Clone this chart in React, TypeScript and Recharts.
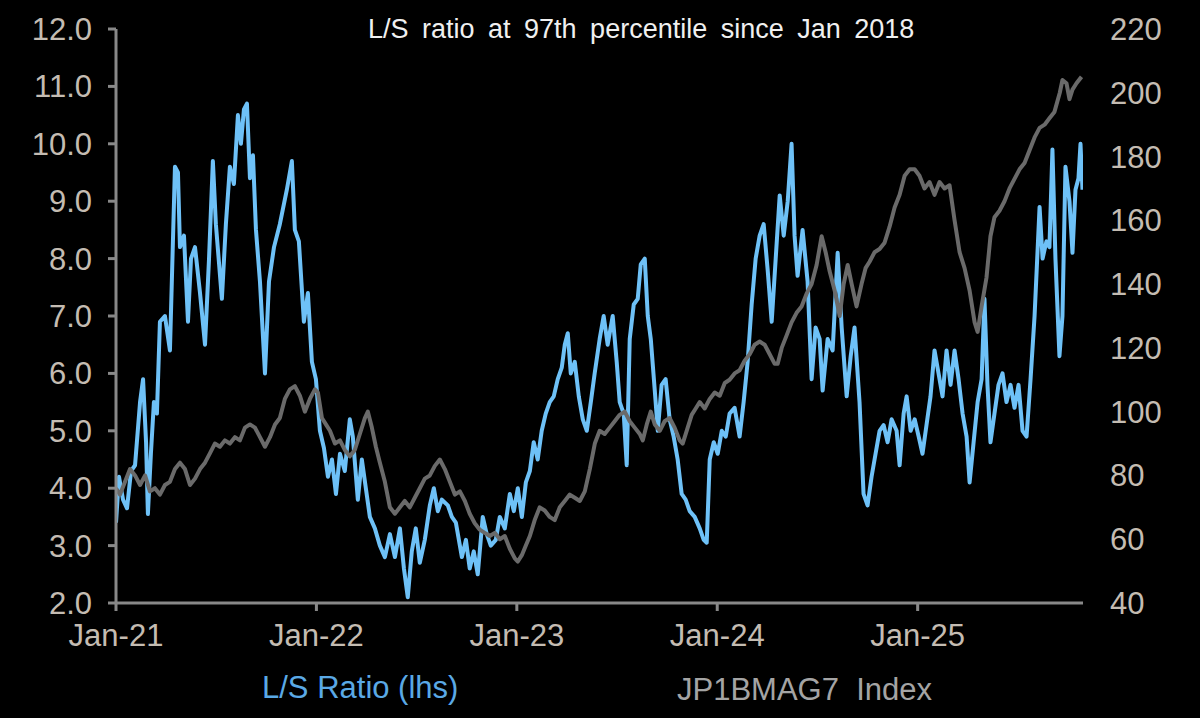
import React from "react";
import { LineChart, Line, XAxis, YAxis } from "recharts";

// month index from Jan 2021 (0 = Jan-21)
const LS_MONTHS = [
  0, 0.18, 0.42, 0.66, 0.9, 1.14, 1.44, 1.62, 1.8, 1.91, 2.09, 2.27, 2.45, 2.63, 2.93, 3.23, 3.53, 3.71, 3.83,
  4.07, 4.31, 4.49, 4.73, 5.03, 5.33, 5.57, 5.8, 5.98, 6.34, 6.58, 6.82, 7.06, 7.3, 7.48, 7.66, 7.84, 8.02, 8.2,
  8.38, 8.62, 8.92, 9.16, 9.46, 9.81, 10.23, 10.53, 10.71, 10.95, 11.25, 11.49, 11.73, 11.97, 12.21, 12.45,
  12.69, 12.93, 13.17, 13.41, 13.7, 14.0, 14.18, 14.48, 14.72, 14.96, 15.2, 15.5, 15.8, 16.1, 16.4, 16.7, 17.0,
  17.24, 17.47, 17.71, 17.95, 18.19, 18.49, 18.79, 19.03, 19.27, 19.51, 19.87, 20.11, 20.35, 20.71, 20.95,
  21.18, 21.42, 21.66, 21.96, 22.2, 22.44, 22.74, 22.98, 23.28, 23.58, 23.82, 24.06, 24.3, 24.54, 24.78, 25.01,
  25.25, 25.49, 25.73, 25.97, 26.21, 26.45, 26.69, 26.87, 27.05, 27.23, 27.47, 27.71, 27.95, 28.19, 28.43,
  28.66, 28.96, 29.2, 29.44, 29.74, 29.98, 30.16, 30.4, 30.58, 30.76, 31.0, 31.24, 31.42, 31.66, 31.84, 32.02,
  32.26, 32.44, 32.67, 32.91, 33.15, 33.39, 33.63, 33.87, 34.11, 34.35, 34.65, 34.95, 35.19, 35.37, 35.55,
  35.79, 36.03, 36.27, 36.51, 36.74, 37.04, 37.34, 37.58, 37.82, 38.06, 38.3, 38.54, 38.78, 39.02, 39.26, 39.5,
  39.74, 39.98, 40.22, 40.45, 40.63, 40.81, 41.11, 41.41, 41.65, 41.89, 42.13, 42.31, 42.61, 42.91, 43.21,
  43.45, 43.75, 43.99, 44.22, 44.52, 44.76, 45.0, 45.24, 45.48, 45.72, 45.96, 46.2, 46.44, 46.74, 46.92, 47.16,
  47.34, 47.58, 47.82, 48.06, 48.29, 48.53, 48.77, 49.01, 49.25, 49.49, 49.73, 49.97, 50.21, 50.45, 50.69,
  50.93, 51.11, 51.35, 51.59, 51.83, 52.0, 52.18, 52.36, 52.6, 52.84, 53.08, 53.32, 53.56, 53.8, 54.04, 54.28,
  54.52, 54.76, 55.0, 55.3, 55.48, 55.71, 55.89, 56.07, 56.25, 56.49, 56.67, 56.85, 57.09, 57.27, 57.45, 57.63,
  57.75, 57.87,
];

const LS_RATIO = [
  3.4, 4.2, 3.8, 3.65, 4.3, 4.4, 5.5, 5.9, 4.8, 3.55, 4.6, 5.5, 5.3, 6.9, 7.0, 6.4, 9.6, 9.5, 8.2,
  8.4, 6.9, 8.0, 8.2, 7.4, 6.5, 8.0, 9.7, 8.6, 7.3, 8.6, 9.6, 9.3, 10.5, 10.0, 10.6, 10.7, 9.4, 9.8,
  8.5, 7.6, 6.0, 7.6, 8.2, 8.6, 9.2, 9.7, 8.5, 8.3, 6.9, 7.4, 6.2, 5.9, 5.0, 4.7,
  4.2, 4.5, 3.9, 4.6, 4.3, 5.2, 4.9, 3.8, 4.5, 4.0, 3.5, 3.3, 3.0, 2.8, 3.2, 2.8, 3.3,
  2.6, 2.1, 2.9, 3.3, 2.7, 3.1, 3.7, 4.0, 3.6, 3.8, 3.7, 3.5, 3.4, 2.8, 3.1,
  2.6, 2.9, 2.5, 3.5, 3.2, 3.0, 3.1, 3.5, 3.3, 3.9, 3.6, 4.0, 3.5, 4.1, 4.3, 4.8,
  4.5, 5.0, 5.3, 5.5, 5.6, 5.9, 6.1, 6.5, 6.7, 6.0, 6.2, 5.6, 5.2, 5.0, 5.5,
  6.0, 6.6, 7.0, 6.5, 7.0, 6.2, 5.5, 5.3, 4.4, 6.6, 7.2, 7.3, 7.9, 8.0, 7.0, 6.6,
  5.7, 5.0, 5.8, 5.9, 5.2, 4.9, 4.5, 3.9, 3.8, 3.6, 3.5, 3.3, 3.1, 3.05, 4.5,
  4.8, 4.6, 5.0, 4.9, 5.3, 5.4, 4.9, 5.5, 6.2, 7.2, 8.0, 8.4, 8.6, 7.8, 6.9, 8.0,
  9.1, 8.4, 9.0, 10.0, 8.4, 7.7, 8.5, 7.6, 5.9, 6.8, 6.6, 5.7, 6.6, 6.4, 8.1,
  6.8, 5.6, 6.3, 6.8, 5.5, 3.9, 3.7, 4.2, 4.6, 5.0, 5.1, 4.8, 5.2, 5.0, 4.4, 5.3,
  5.6, 5.0, 5.2, 4.9, 4.6, 5.1, 5.6, 6.4, 6.0, 5.6, 6.4, 5.8, 6.4, 5.9, 5.3,
  4.9, 4.1, 4.8, 5.5, 5.9, 7.3, 5.8, 4.8, 5.3, 5.8, 6.0, 5.5, 5.8, 5.4, 5.8, 5.0,
  4.9, 5.9, 7.0, 8.9, 8.0, 8.3, 8.2, 9.9, 8.0, 6.3, 7.0, 9.6, 9.0, 8.1, 9.2, 9.4,
  10.0, 9.2,
];

const IDX_MONTHS = [
  0, 0.24, 0.54, 0.84, 1.14, 1.44, 1.74, 2.03, 2.33, 2.63, 2.93, 3.23, 3.53, 3.83, 4.13, 4.43, 4.73, 5.03,
  5.33, 5.63, 5.92, 6.22, 6.52, 6.82, 7.12, 7.42, 7.72, 8.02, 8.32, 8.62, 8.92, 9.22, 9.52, 9.81, 10.11,
  10.41, 10.71, 11.01, 11.31, 11.61, 11.91, 12.09, 12.33, 12.57, 12.81, 13.11, 13.41, 13.7, 14.0, 14.3, 14.6,
  14.9, 15.08, 15.32, 15.56, 15.8, 16.1, 16.4, 16.7, 17.0, 17.29, 17.59, 17.89, 18.19, 18.49, 18.79, 19.09,
  19.39, 19.69, 19.99, 20.29, 20.59, 20.89, 21.18, 21.48, 21.78, 22.08, 22.38, 22.68, 22.98, 23.28, 23.58,
  23.88, 24.06, 24.3, 24.54, 24.78, 25.07, 25.37, 25.67, 25.97, 26.27, 26.57, 26.87, 27.17, 27.47, 27.77,
  28.07, 28.37, 28.67, 28.96, 29.26, 29.56, 29.86, 30.16, 30.46, 30.76, 31.06, 31.36, 31.54, 31.78, 32.02,
  32.26, 32.56, 32.85, 33.15, 33.45, 33.75, 33.93, 34.17, 34.47, 34.71, 34.95, 35.25, 35.55, 35.85, 36.15,
  36.45, 36.74, 37.04, 37.34, 37.64, 37.94, 38.24, 38.54, 38.84, 39.14, 39.44, 39.62, 39.86, 40.16, 40.45,
  40.75, 41.05, 41.35, 41.65, 41.95, 42.25, 42.49, 42.73, 43.03, 43.33, 43.57, 43.81, 44.05, 44.34, 44.64,
  44.88, 45.12, 45.42, 45.72, 46.02, 46.32, 46.62, 46.92, 47.22, 47.52, 47.82, 48.11, 48.41, 48.71, 49.01,
  49.31, 49.61, 49.91, 50.21, 50.51, 50.81, 51.11, 51.41, 51.59, 51.83, 52.12, 52.36, 52.6, 52.9, 53.2, 53.5,
  53.8, 54.1, 54.4, 54.7, 55.0, 55.3, 55.6, 55.89, 56.19, 56.51, 56.67, 56.91, 57.09, 57.27, 57.51, 57.81,
];

const IDX_VALUES = [
  76, 74, 78, 82, 80, 77, 80, 75, 76, 74, 77, 78, 82, 84, 82, 77, 79, 82,
  84, 87, 90, 89, 91, 90, 92, 91, 95, 96, 95, 92, 89, 92, 96, 98, 104,
  107, 108, 105, 100, 104, 107, 106, 98, 96, 94, 90, 91, 88, 86, 88, 93,
  98, 100, 95, 89, 84, 78, 70, 68, 70, 72, 70, 73, 76, 79, 80, 83,
  85, 82, 78, 74, 75, 72, 68, 65, 63, 62, 61, 62, 60, 61, 57,
  54, 53, 55, 58, 61, 66, 70, 69, 67, 66, 70, 72, 74, 73, 72,
  75, 82, 90, 94, 93, 95, 97, 99, 100, 97, 95, 93, 91, 96, 100,
  96, 94, 97, 98, 95, 91, 90, 94, 99, 101, 103, 101, 104, 106, 105,
  109, 110, 112, 113, 116, 118, 121, 122, 121, 118, 115, 115, 120, 124, 128,
  131, 133, 137, 140, 146, 155, 150, 144, 138, 130, 140, 146, 140, 133, 140,
  145, 147, 150, 151, 153, 158, 164, 168, 174, 176, 176, 174, 170, 172, 168,
  172, 170, 171, 160, 150, 145, 138, 128, 125, 133, 142, 155, 161, 163, 166, 170,
  173, 176, 178, 182, 186, 189, 190, 192, 194, 200, 204, 203, 198, 201, 203, 205,
];

const LEFT_TICKS = [2, 3, 4, 5, 6, 7, 8, 9, 10, 11, 12];
const RIGHT_TICKS = [40, 60, 80, 100, 120, 140, 160, 180, 200, 220];
const X_TICKS = [0, 12, 24, 36, 48];
const X_LABELS = ["Jan-21", "Jan-22", "Jan-23", "Jan-24", "Jan-25"];

const lsData = LS_MONTHS.map((m, i) => ({ m, v: LS_RATIO[i] }));
const idxData = IDX_MONTHS.map((m, i) => ({ m, v: IDX_VALUES[i] }));

const FONT = '"Liberation Sans", Arial, sans-serif';
const AXIS = "#888888";
const TICK_TEXT = { fill: "#c4bcb2", fontSize: 31, fontFamily: FONT };

export default function App() {
  return (
    <div
      style={{
        position: "absolute",
        left: 0,
        top: 0,
        width: 1200,
        height: 718,
        background: "#000",
        overflow: "hidden",
        fontFamily: FONT,
      }}
    >
      <LineChart width={1200} height={718} margin={{ top: 29, right: 0, bottom: 75, left: 0 }}>
        <XAxis
          dataKey="m"
          type="number"
          domain={[0, 57.9]}
          ticks={X_TICKS}
          tickFormatter={(v: number) => X_LABELS[X_TICKS.indexOf(v)] ?? ""}
          height={40}
          axisLine={{ stroke: AXIS, strokeWidth: 3 }}
          tickLine={{ stroke: AXIS, strokeWidth: 3 }}
          tickSize={8}
          tickMargin={13}
          tick={TICK_TEXT}
          allowDataOverflow
        />
        <YAxis
          yAxisId="left"
          orientation="left"
          width={116}
          domain={[2, 12]}
          ticks={LEFT_TICKS}
          tickFormatter={(v: number) => v.toFixed(1)}
          axisLine={{ stroke: AXIS, strokeWidth: 3 }}
          tickLine={{ stroke: AXIS, strokeWidth: 3 }}
          tickSize={8}
          tickMargin={16}
          tick={TICK_TEXT}
          allowDataOverflow
        />
        <YAxis
          yAxisId="right"
          orientation="right"
          width={117}
          domain={[40, 220]}
          ticks={RIGHT_TICKS}
          axisLine={false}
          tickLine={false}
          tickSize={0}
          tickMargin={27}
          tick={TICK_TEXT}
          allowDataOverflow
        />
        <Line
          yAxisId="left"
          data={lsData}
          dataKey="v"
          type="linear"
          stroke="#6ec1f7"
          strokeWidth={4}
          strokeLinejoin="round"
          dot={false}
          isAnimationActive={false}
        />
        <Line
          yAxisId="right"
          data={idxData}
          dataKey="v"
          type="linear"
          stroke="#6a6a6a"
          strokeWidth={4}
          strokeLinejoin="round"
          dot={false}
          isAnimationActive={false}
        />
      </LineChart>

      <div
        style={{
          position: "absolute",
          left: 368,
          top: 14,
          color: "#f0f0f0",
          fontSize: 27,
          wordSpacing: 6,
          whiteSpace: "pre",
        }}
      >
        L/S ratio at 97th percentile since Jan 2018
      </div>
      <div
        style={{
          position: "absolute",
          left: 262,
          top: 670,
          color: "#5aa9e6",
          fontSize: 31,
          whiteSpace: "pre",
        }}
      >
        L/S Ratio (lhs)
      </div>
      <div
        style={{
          position: "absolute",
          left: 677,
          top: 672,
          color: "#a4a4a4",
          fontSize: 31,
          whiteSpace: "pre",
        }}
      >
        JP1BMAG7  Index
      </div>
    </div>
  );
}
